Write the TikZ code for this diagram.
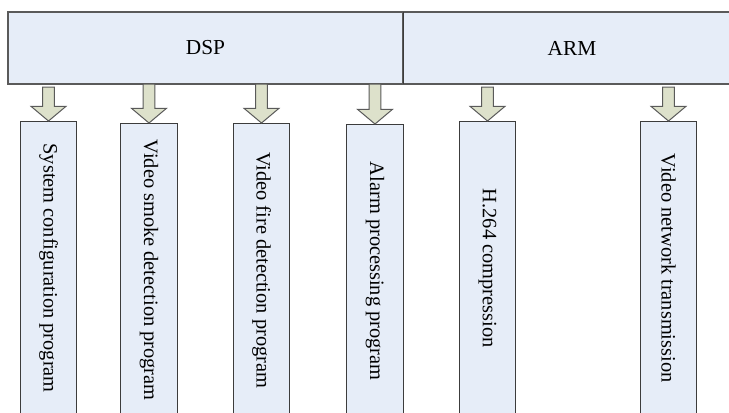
\documentclass[tikz,border=0pt]{standalone}
\usepackage{fontspec}
\setmainfont{Liberation Serif}
\usepackage{tikz}
\usetikzlibrary{calc}
\definecolor{boxfill}{HTML}{E6EDF8}
\definecolor{boxline}{HTML}{3C3C3C}
\definecolor{arrfill}{HTML}{DDE1CB}
\definecolor{arrline}{HTML}{5A5A5A}
\newcommand{\progfont}{\fontsize{15.3}{18}\selectfont}
\newcommand{\barfont}{\fontsize{16}{19}\selectfont}
% block arrow from a start point down to the top of a program box
\newcommand{\blkarrow}[2]{%
\filldraw[blkarr] let \p1=(#1), \p2=(#2.west) in
(\x2-4.35pt,\y1) -- (\x2+4.35pt,\y1) -- (\x2+4.35pt,\y2+11pt)
-- (\x2+13.1pt,\y2+11pt) -- (\x2,\y2) -- (\x2-13.1pt,\y2+11pt)
-- (\x2-4.35pt,\y2+11pt) -- cycle;}

\begin{document}
\begin{tikzpicture}[x=0.75pt,y=-0.75pt,
bar/.style={draw=arrline,line width=1pt,fill=boxfill,minimum height=54pt,
  inner sep=0pt,outer sep=0pt,anchor=north west,font=\barfont},
prog/.style={draw=boxline,line width=0.75pt,fill=boxfill,rotate=-90,
  anchor=west,minimum width=220pt,minimum height=42.4pt,inner sep=0pt,
  font=\progfont},
blkarr/.style={draw=arrline,line width=0.75pt,fill=arrfill,line join=miter}]
\useasboundingbox (0,0) rectangle (729,412);
\clip (0,0) rectangle (729,412);
\node[bar,minimum width=296.25pt] (dsp) at (8,12) {DSP};
\node[bar,minimum width=253.5pt] (arm) at (dsp.north east) {ARM};
\draw[boxline,line width=0.6pt] (dsp.north east) -- (dsp.south east);
\node[prog] (b1) at (48.5,121) {System configuration program};
\node[prog] (b2) at (149,123) {Video smoke detection program};
\node[prog] (b3) at (261.5,123) {Video fire detection program};
\node[prog] (b4) at (375,124) {Alarm processing program};
\node[prog] (b5) at (487.5,121) {H.264 compression};
\node[prog] (b6) at (668.5,121) {Video network transmission};
\coordinate (s1) at (48,87);
\coordinate (s2) at (150,84);
\coordinate (s3) at (261,84);
\coordinate (s4) at (375,84);
\coordinate (s5) at (488,87);
\coordinate (s6) at (668,87);
\blkarrow{s1}{b1}
\blkarrow{s2}{b2}
\blkarrow{s3}{b3}
\blkarrow{s4}{b4}
\blkarrow{s5}{b5}
\blkarrow{s6}{b6}
\end{tikzpicture}
\end{document}
